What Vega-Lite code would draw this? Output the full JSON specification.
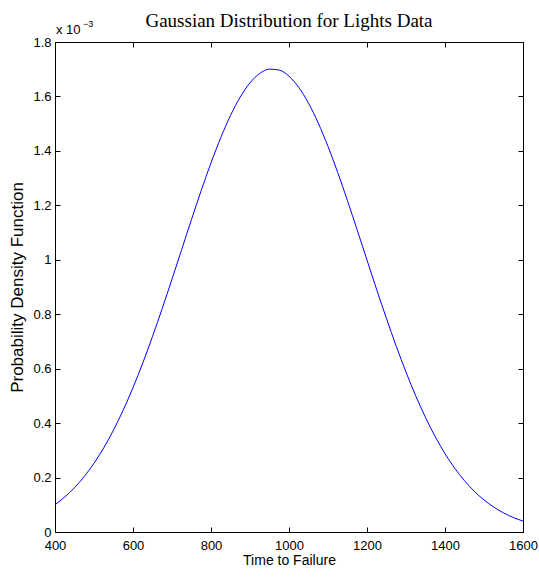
{
  "$schema": "https://vega.github.io/schema/vega-lite/v6.json",
  "autosize": "none",
  "width": 468,
  "height": 490,
  "padding": {"left": 55, "top": 42, "right": 16, "bottom": 47},
  "background": "white",
  "title": {"text": "Gaussian Distribution for Lights Data", "font": "Liberation Serif", "fontSize": 19, "fontWeight": "normal", "color": "black", "offset": -11, "anchor": "middle"},
  "data": {"values": [
    {"t": 400, "pdf": 0.1003}, {"t": 425, "pdf": 0.1286}, {"t": 450, "pdf": 0.1628}, {"t": 475, "pdf": 0.2040},
    {"t": 500, "pdf": 0.2526}, {"t": 525, "pdf": 0.3093}, {"t": 550, "pdf": 0.3745}, {"t": 575, "pdf": 0.4483},
    {"t": 600, "pdf": 0.5305}, {"t": 625, "pdf": 0.6207}, {"t": 650, "pdf": 0.7181}, {"t": 675, "pdf": 0.8213},
    {"t": 700, "pdf": 0.9288}, {"t": 725, "pdf": 1.0384}, {"t": 750, "pdf": 1.1480}, {"t": 775, "pdf": 1.2548},
    {"t": 800, "pdf": 1.3558}, {"t": 825, "pdf": 1.4486}, {"t": 850, "pdf": 1.5301}, {"t": 875, "pdf": 1.5980},
    {"t": 900, "pdf": 1.6501}, {"t": 925, "pdf": 1.6846}, {"t": 950, "pdf": 1.7003}, {"t": 975, "pdf": 1.6968},
    {"t": 1000, "pdf": 1.6742}, {"t": 1025, "pdf": 1.6333}, {"t": 1050, "pdf": 1.5753}, {"t": 1075, "pdf": 1.5022},
    {"t": 1100, "pdf": 1.4163}, {"t": 1125, "pdf": 1.3203}, {"t": 1150, "pdf": 1.2168}, {"t": 1175, "pdf": 1.1088},
    {"t": 1200, "pdf": 0.9989}, {"t": 1225, "pdf": 0.8897}, {"t": 1250, "pdf": 0.7836}, {"t": 1275, "pdf": 0.6823},
    {"t": 1300, "pdf": 0.5874}, {"t": 1325, "pdf": 0.4999}, {"t": 1350, "pdf": 0.4207}, {"t": 1375, "pdf": 0.3500},
    {"t": 1400, "pdf": 0.2879}, {"t": 1425, "pdf": 0.2342}, {"t": 1450, "pdf": 0.1884}, {"t": 1475, "pdf": 0.1497},
    {"t": 1500, "pdf": 0.1177}, {"t": 1525, "pdf": 0.0915}, {"t": 1550, "pdf": 0.0703}, {"t": 1575, "pdf": 0.0534},
    {"t": 1600, "pdf": 0.0401}
  ]},
  "layer": [
    {
      "mark": {"type": "line", "color": "#0000ff", "strokeWidth": 1, "interpolate": "monotone", "clip": true},
      "encoding": {
        "x": {"field": "t", "type": "quantitative", "scale": {"domain": [400, 1600], "nice": false, "zero": false},
              "axis": {"orient": "bottom", "title": "Time to Failure", "values": [400, 600, 800, 1000, 1200, 1400, 1600], "format": "d", "labelPadding": 12, "titlePadding": 1, "titleFontSize": 14}},
        "y": {"field": "pdf", "type": "quantitative", "scale": {"domain": [0, 1.8], "nice": false},
              "axis": {"orient": "left", "title": "Probability Density Function", "values": [0, 0.2, 0.4, 0.6, 0.8, 1, 1.2, 1.4, 1.6, 1.8], "format": "~g", "labelPadding": 9, "titlePadding": 6, "titleFontSize": 17}}
      }
    },
    {
      "mark": {"type": "line", "opacity": 0},
      "encoding": {
        "x": {"field": "t", "type": "quantitative", "scale": {"domain": [400, 1600], "nice": false, "zero": false},
              "axis": {"orient": "top", "title": null, "labels": false, "values": [400, 600, 800, 1000, 1200, 1400, 1600]}},
        "y": {"field": "pdf", "type": "quantitative", "scale": {"domain": [0, 1.8], "nice": false},
              "axis": {"orient": "right", "title": null, "labels": false, "values": [0, 0.2, 0.4, 0.6, 0.8, 1, 1.2, 1.4, 1.6, 1.8]}}
      }
    },
    {
      "data": {"values": [{"t": 400, "pdf": 1.8, "label": "x 10"}]},
      "mark": {"type": "text", "align": "left", "baseline": "alphabetic", "dx": 1, "dy": -8, "font": "Liberation Sans", "fontSize": 13, "color": "black"},
      "encoding": {
        "x": {"field": "t", "type": "quantitative", "axis": null},
        "y": {"field": "pdf", "type": "quantitative", "axis": null},
        "text": {"field": "label"}
      }
    },
    {
      "data": {"values": [{"t": 400, "pdf": 1.8, "label": "−3"}]},
      "mark": {"type": "text", "align": "left", "baseline": "alphabetic", "dx": 28, "dy": -15, "font": "Liberation Sans", "fontSize": 9, "color": "black"},
      "encoding": {
        "x": {"field": "t", "type": "quantitative", "axis": null},
        "y": {"field": "pdf", "type": "quantitative", "axis": null},
        "text": {"field": "label"}
      }
    }
  ],
  "resolve": {"axis": {"x": "independent", "y": "independent"}},
  "config": {
    "view": {"stroke": "black", "strokeWidth": 1},
    "axis": {
      "grid": false,
      "domainColor": "black",
      "tickColor": "black",
      "tickSize": -5,
      "labelColor": "black",
      "labelFont": "Liberation Sans",
      "labelFontSize": 13,
      "labelFlush": false,
      "labelOverlap": false,
      "titleFont": "Liberation Sans",
      "titleFontWeight": "normal",
      "titleColor": "black"
    }
  }
}
